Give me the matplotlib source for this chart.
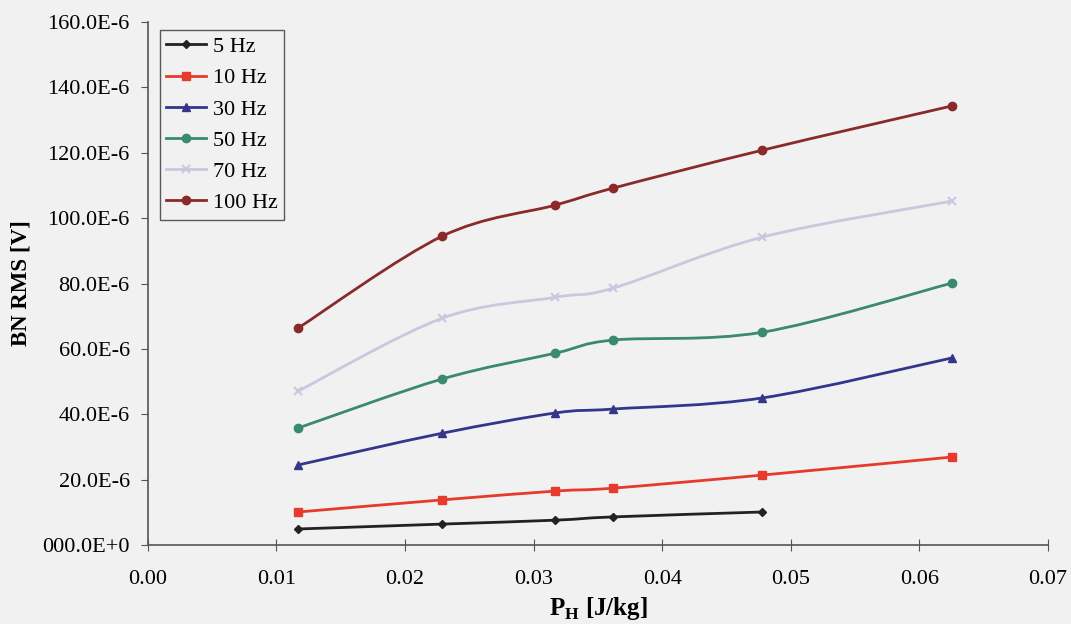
import matplotlib
matplotlib.use("Agg")
import matplotlib.pyplot as plt
from matplotlib.path import Path
from matplotlib.patches import PathPatch
from matplotlib.lines import Line2D
from matplotlib.ticker import FuncFormatter, MultipleLocator

plt.rcParams['font.family'] = ['Liberation Serif', 'DejaVu Serif']

# Data
ph = [0.0117, 0.0229, 0.0317, 0.0362, 0.0478, 0.0625]
labels = ["5 Hz", "10 Hz", "30 Hz", "50 Hz", "70 Hz", "100 Hz"]
v5 = [4.9e-6, 6.4e-6, 7.6e-6, 8.6e-6, 10.1e-6]
v10 = [10.1e-6, 13.8e-6, 16.5e-6, 17.4e-6, 21.4e-6, 26.9e-6]
v30 = [24.5e-6, 34.2e-6, 40.4e-6, 41.6e-6, 45.0e-6, 57.2e-6]
v50 = [35.8e-6, 50.8e-6, 58.7e-6, 62.7e-6, 65.1e-6, 80.1e-6]
v70 = [47.1e-6, 69.4e-6, 75.8e-6, 78.6e-6, 94.2e-6, 105.2e-6]
v100 = [66.4e-6, 94.5e-6, 104.0e-6, 109.2e-6, 120.8e-6, 134.3e-6]
series = [v5, v10, v30, v50, v70, v100]

colors = ["#222222", "#e63a2c", "#34368c", "#3a8a6c", "#c8c8de", "#8a2a2a"]
markers = ["D", "s", "^", "o", "x", "o"]
msizes = [4, 6, 6, 6, 6, 6]

bg = "#f1f1f1"
fig = plt.figure(figsize=(10.71, 6.24), dpi=100, facecolor=bg)
ax = fig.add_axes([0.138, 0.1266, 0.8405, 0.8381], facecolor=bg)


def smooth_path(xs, ys):
    pts = list(zip(xs, ys))
    verts = [pts[0]]
    codes = [Path.MOVETO]
    n = len(pts)
    for i in range(n - 1):
        p0 = pts[i - 1] if i > 0 else pts[i]
        p1 = pts[i]
        p2 = pts[i + 1]
        p3 = pts[i + 2] if i + 2 < n else pts[i + 1]
        c1 = (p1[0] + (p2[0] - p0[0]) / 6, p1[1] + (p2[1] - p0[1]) / 6)
        c2 = (p2[0] - (p3[0] - p1[0]) / 6, p2[1] - (p3[1] - p1[1]) / 6)
        verts += [c1, c2, p2]
        codes += [Path.CURVE4] * 3
    return Path(verts, codes)


handles = []
for vals, lab, c, m, ms in zip(series, labels, colors, markers, msizes):
    xs = ph[:len(vals)]
    ax.add_patch(PathPatch(smooth_path(xs, vals), facecolor="none",
                           edgecolor=c, lw=2.0, zorder=2))
    ax.plot(xs, vals, linestyle="none", marker=m, color=c, markersize=ms,
            markeredgewidth=1.5 if m == "x" else 1, zorder=3)
    handles.append(Line2D([], [], color=c, lw=2.0, marker=m, markersize=ms,
                          markeredgewidth=1.5 if m == "x" else 1, label=lab))

ax.set_xlim(0, 0.07)
ax.set_ylim(0, 160e-6)
ax.xaxis.set_major_locator(MultipleLocator(0.01))
ax.yaxis.set_major_locator(MultipleLocator(20e-6))
ax.xaxis.set_major_formatter(FuncFormatter(lambda v, p: f"{v:.2f}"))


def yfmt(v, p):
    if abs(v) < 1e-12:
        return "000.0E+0"
    return f"{v * 1e6:.1f}E-6"


ax.yaxis.set_major_formatter(FuncFormatter(yfmt))

for s in ["top", "right"]:
    ax.spines[s].set_visible(False)
for s in ["left", "bottom"]:
    ax.spines[s].set_color("#555555")
    ax.spines[s].set_linewidth(1.2)

ax.tick_params(axis="x", direction="inout", length=8, labelsize=16, pad=14,
               color="#555555")
ax.tick_params(axis="y", direction="out", length=5, labelsize=16, pad=8,
               color="#555555")

ax.set_xlabel(r"P$_\mathregular{H}$ [J/kg]", fontsize=18, fontweight="bold",
              labelpad=4)
ax.set_ylabel("BN RMS [V]", fontsize=16.5, fontweight="bold", labelpad=8)

leg = ax.legend(handles=handles, loc="upper left", bbox_to_anchor=(0.013, 0.985),
                fontsize=16, frameon=True, fancybox=False, handlelength=1.8,
                labelspacing=0.48, borderpad=0.3, handletextpad=0.3,
                borderaxespad=0)
leg.get_frame().set_edgecolor("#333333")
leg.get_frame().set_facecolor(bg)
leg.get_frame().set_linewidth(1.0)

fig.savefig("out.png", dpi=100, facecolor=bg)
